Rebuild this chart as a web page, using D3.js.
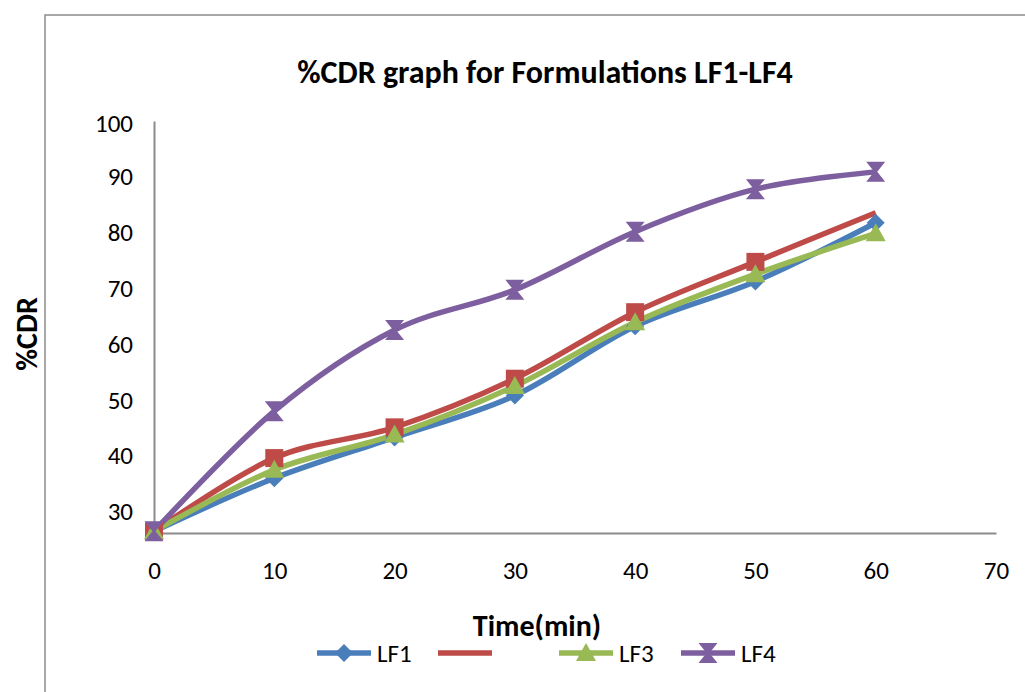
<!DOCTYPE html>
<html><head><meta charset="utf-8">
<script src="https://cdn.jsdelivr.net/npm/d3@7/dist/d3.min.js"></script>
<style>body{margin:0;background:#fff;}svg{display:block;font-family:Carlito,Lato,"Open Sans",sans-serif;}</style>
</head><body><svg id="c" width="1025" height="692"></svg>
<script>
const time = [0, 10, 20, 30, 40, 50, 60];
const seriesNames = ["LF1", "", "LF3", "LF4"];
const lf1 = [26.6, 36.1, 43.4, 50.9, 63.3, 71.3, 81.8];
const lf2 = [26.6, 39.7, 45.2, 53.9, 65.8, 74.8, 83.6];
const lf3 = [26.6, 37.6, 43.9, 52.6, 64.0, 72.6, 79.9];
const lf4 = [26.6, 48.1, 62.6, 69.8, 80.2, 87.8, 90.9];
const xTicks = [0, 10, 20, 30, 40, 50, 60, 70];
const yTicks = [30, 40, 50, 60, 70, 80, 90, 100];
const colors = ["#4A7EBB", "#BE4B48", "#98B954", "#7D5FA0"];

const svg = d3.select("#c");
svg.append("rect").attr("x",45).attr("y",15).attr("width",1000).attr("height",700)
  .attr("fill","none").attr("stroke","#8c8c8c").attr("stroke-width",1.5);

const x = d3.scaleLinear().domain([0,70]).range([154,996]);
const y = d3.scaleLinear().domain([26.3,100]).range([533,121]);

// axes
const gx = svg.append("g").attr("transform","translate(0,533)")
  .call(d3.axisBottom(x).tickValues(xTicks).tickSize(0).tickPadding(28));
const gy = svg.append("g").attr("transform","translate(154,0)")
  .call(d3.axisLeft(y).tickValues(yTicks).tickSize(0).tickPadding(21));
[gx,gy].forEach(g=>{
  g.select(".domain").attr("stroke","#8c8c8c").attr("stroke-width",2);
  g.selectAll("text").attr("font-size",25).attr("fill","#000").attr("font-family","Carlito,Lato,sans-serif");
});
gy.selectAll("text").attr("dy","0.3em");
gy.selectAll(".tick").filter(d=>d===100).select("text").attr("dy","0.42em");

// title & axis titles
svg.append("text").attr("x",545).attr("y",83).attr("text-anchor","middle")
  .attr("font-size",32).attr("font-weight","bold").text("%CDR graph for Formulations LF1-LF4");
svg.append("text").attr("x",537).attr("y",636).attr("text-anchor","middle")
  .attr("font-size",30).attr("font-weight","bold").text("Time(min)");
svg.append("text").attr("transform","translate(37,334) rotate(-90)").attr("text-anchor","middle")
  .attr("font-size",30).attr("font-weight","bold").text("%CDR");

const data = [lf1, lf2, lf3, lf4];
const line = d3.line().x((d,i)=>x(time[i])).y(d=>y(d)).curve(d3.curveCardinal.tension(0));

const markerPath = [
  "M0,-9L9,0L0,9L-9,0Z",
  "M-9,-9L9,-9L9,9L-9,9Z",
  "M0,-10L10,8L-10,8Z",
  "M-9.5,-10L9.5,-10L1.5,0L9.5,10L-9.5,10L-1.5,0Z"
];

data.forEach((s,k)=>{
  svg.append("path").datum(s).attr("d",line).attr("fill","none")
    .attr("stroke",colors[k]).attr("stroke-width",5.5).attr("stroke-linejoin","round");
});
data.forEach((s,k)=>{
  const pts = k===1 ? s.slice(0,6) : s;
  svg.selectAll(null).data(pts).enter().append("path")
    .attr("d",markerPath[k]).attr("fill",colors[k])
    .attr("transform",(d,i)=>`translate(${x(time[i])},${y(d)})`);
});

// legend
const legX = [317, 438, 559, 681];
data.forEach((s,k)=>{
  const g = svg.append("g").attr("transform",`translate(${legX[k]},653)`);
  g.append("line").attr("x1",0).attr("x2",54).attr("stroke",colors[k]).attr("stroke-width",5.5);
  if(k!==1) g.append("path").attr("d",markerPath[k]).attr("fill",colors[k]).attr("transform","translate(27,0)");
  if(seriesNames[k]) g.append("text").attr("x",60).attr("y",0).attr("dy","0.36em")
    .attr("font-size",25).text(seriesNames[k]);
});
</script></body></html>
